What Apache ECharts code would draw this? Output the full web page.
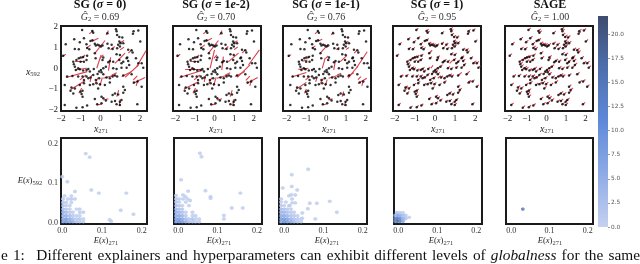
<!DOCTYPE html>
<html><head><meta charset="utf-8">
<style>html,body{margin:0;padding:0;background:#fff}#c{width:640px;height:264px}</style>
<script src="https://cdn.jsdelivr.net/npm/echarts@6/dist/echarts.min.js"></script>
</head><body><div id="c"></div>
<script>
const panelTitles = ['{b|SG (}{bi|σ}{b| = 0)}','{b|SG (}{bi|σ}{b| = 1}{bi|e}{b|-2)}','{b|SG (}{bi|σ}{b| = 1}{bi|e}{b|-1)}','{b|SG (}{bi|σ}{b| = 1)}','{b|SAGE}'];
const globalness = ['0.69','0.70','0.76','0.95','1.00'];
const topTicks = [-2,-1,0,1,2];
const bottomTicks = [0,0.1,0.2];
const colorbarTicks = [0,2.5,5,7.5,10,12.5,15,17.5,20];
const colorbarMax = 21.9;

const points = [
[-.93,1.85],[-.42,1.8],[-.37,1.71],[.35,1.69],[.78,1.88],[.81,1.79],[.84,1.61],[.95,1.51],[1.1,1.48],[1.67,1.79],[1.64,1.67],[1.91,1.82],[2.01,1.29],
[-1.76,1.16],[-1.33,1.4],[-1.05,1.26],[-.84,1.45],[-.51,1.32],[-.41,1.35],[-.71,1.16],[-1.3,.93],[-1.1,.92],[-.68,.98],[-.57,.92],[-.29,1.18],[-.24,1.1],[-.15,1.13],[-.07,1.1],[.02,1.05],[.1,1.1],
[.35,1.18],[.41,.97],[.56,1.13],[.61,.93],[.95,1.29],[1.01,1.21],[.89,1.13],[.98,1.05],[1.15,1.21],[.84,.97],[1.4,.89],[1.57,.87],[1.62,.76],[1.32,.48],
[-1.89,.61],[-1.38,.32],[-1.22,.4],[-1.1,.48],[-1,.52],[-.88,.55],[-.68,.61],[-1.35,.19],[-1.3,.08],[-1.25,-.08],[-1.13,0],[-1.01,.32],[-.84,.32],[-.71,.4],
[-.29,.72],[-.25,.48],[.14,.52],[.1,.4],[.64,.32],[.47,.35],[.81,.68],[.98,.64],[.95,.4],[1.06,.24],[1.15,.32],[1.35,.52],[1.4,.35],[1.45,.16],[1.79,.48],[1.91,.24],[2.08,.24],[2.16,.03],
[-1.05,-.05],[-.88,-.11],[-.71,-.08],[-.62,-.03],[-.54,-.16],[-.34,-.03],[-.15,-.27],[-.07,-.16],[.02,-.08],[.14,0],[.27,.08],[.39,.29],[.64,0],[.81,-.03],[1.06,.03],[1.32,.03],[1.57,-.29],
[-1.69,-.4],[-1.42,-.37],[-1.13,-.4],[-.91,-.4],[-.84,-.56],[-.71,-.4],[-.62,-.48],[-.51,-.45],[-.37,-.32],[-.24,-.56],[-.07,-.48],[.14,-.29],[.05,-.19],[.3,-.45],[.47,-.48],[.61,-.4],[.73,-.35],[.84,-.4],[1.15,-.35],[1.69,-.68],[1.87,-.64],[2.08,-.89],
[-1.81,-.81],[-1.47,-.93],[-1.3,-.97],[-1.52,-1.08],[-1.38,-1.21],[-1.05,-.81],[-.84,-.72],[-.91,-1.08],[-.96,-1.24],[-.91,-1.37],[-1.01,-1.13],[-.54,-.81],[-.37,-.77],[-.2,-.72],[-.12,-.97],[-.03,-.77],[.22,-.81],[.47,-.68],[1.15,-.89],[.73,-1.21],[.61,-1.29],
[-.29,-1.48],[.05,-1.37],[.14,-1.45],[.27,-1.55],[-.17,-1.74],[.05,-1.69],[.56,-1.61],[.73,-1.58],[.81,-1.74],[.98,-1.77],[.98,-1.61],[1.06,-1.53],[.89,-1.26],[1.23,-1.05],[1.15,-1.18],
[-1.81,-1.77],[-1.22,-1.9],[-.91,-1.88],[-.68,-1.8],[1.86,-1.74]
];

const arrowsSg0 = [
[-1.93,.56,-1.76,.68],[1.24,-.44,1.92,.16],[1.83,.08,2.3,.85],[1.63,-.73,2.25,-.44],[1.66,-.56,1.86,-.37],[-1.75,-.44,-.67,-.16],[-1.51,-1.02,-.78,-.6],[-1.29,-.08,-.7,0],[-1.29,.32,-.87,.32],
[-.28,.73,.23,1.34],[-.19,0,.03,.65],[.4,-.11,.51,.53],[.73,.24,1.24,.73],[.99,.89,1.19,1.02],[.95,1.21,1.19,1.34],[1.07,-.4,1.58,-.16],[-.03,-.85,.09,-.44],[-.28,-.73,-.11,-.44],[.82,-1.37,.92,-1.05],[.95,-1.82,.99,-1.5],
[-.19,-1.77,.06,-1.73],[.14,-1.53,.4,-1.47],[.28,1.61,.4,1.82],[-.57,1.66,-.36,1.82],[-.45,1.29,-.11,1.45],[-.7,.97,-.5,1.13],[-.95,.48,-.78,.65],[-.53,-.65,-.45,-.32],[.57,-.32,.82,-.21],[.14,-.48,.73,-.32],[-1.04,-.56,-.73,-.32],[-.03,.48,.14,.65],[1.41,.73,1.58,.89],[-1.1,-1.2,-.95,-.95],[.5,.9,.72,1.05],[1.8,-.85,1.9,-.55]
];
const arrowsSg2 = [
[-1.93,.56,-1.75,.68],[1.16,-.44,1.81,.16],[1.73,.16,2.29,.89],[1.64,-.73,2.2,-.44],[1.6,-.58,1.8,-.38],[-1.79,-.44,-.57,-.08],[-1.56,-1,-.82,-.65],[-1.5,-.05,-.74,-.05],[-1.25,.34,-.85,.36],
[-.31,.73,.2,1.34],[-.23,0,0,.89],[.37,-.08,.45,.56],[.71,.32,1.22,.73],[1,.9,1.18,1.03],[.93,1.2,1.17,1.33],[1.05,-.4,1.55,-.16],[-.05,-.85,.08,-.44],[-.3,-.73,-.13,-.44],[.8,-1.37,.9,-1.05],[.93,-1.82,.97,-1.5],
[-.2,-1.77,.05,-1.73],[.12,-1.53,.38,-1.47],[.26,1.61,.38,1.82],[-.57,1.66,-.38,1.82],[-.45,1.29,-.13,1.45],[-.7,.97,-.5,1.13],[-.95,.48,-.78,.65],[-.53,-.65,-.45,-.32],[.55,-.32,.8,-.21],[.12,-.48,.7,-.32],[-1.04,-.56,-.75,-.32],[-.03,.48,.12,.65],[1.41,.73,1.56,.89],[-1.1,-1.2,-.97,-.95],[.5,.9,.7,1.05],[1.8,-.85,1.88,-.55]
];
const arrowsSg1 = [
[-1.93,.56,-1.77,.66],[1.1,-.48,1.6,.1],[1.55,.05,2.07,.8],[1.6,-.73,2.05,-.48],[1.6,-.55,1.75,-.4],[-1.75,-.42,-1,-.2],[-1.5,-1,-1,-.68],[-1.4,-.05,-.9,0],[-1.2,.34,-.95,.4],
[-.3,.73,.1,1.15],[-.2,0,-.05,.5],[.38,-.08,.45,.3],[.71,.32,1.05,.62],[1,.9,1.15,1],[.93,1.2,1.12,1.3],[1.05,-.4,1.4,-.22],[-.05,-.85,.05,-.55],[-.3,-.73,-.15,-.5],[.8,-1.37,.88,-1.12],[.93,-1.82,.97,-1.58],
[-.2,-1.77,.02,-1.72],[.12,-1.53,.32,-1.47],[.26,1.61,.36,1.77],[-.57,1.66,-.42,1.78],[-.45,1.29,-.2,1.4],[-.7,.97,-.55,1.08],[-.95,.48,-.8,.6],[-.53,-.65,-.45,-.4],[.55,-.32,.75,-.24],[.12,-.48,.55,-.36],[-1.04,-.56,-.8,-.38],[-.03,.48,.1,.6],[1.41,.73,1.53,.85],[-1.1,-1.2,-1,-1],[.5,.9,.66,1.02],[1.8,-.85,1.86,-.62]
];
const arrowsSg10 = [
[1.15,-.35,1.33,-.2],[1.57,-.29,1.73,-.14],[-1.75,-.42,-1.57,-.33],[.14,-.48,.29,-.35],[.73,.24,.89,.39],[-.3,.73,-.14,.87],[1.6,-.73,1.77,-.59],[-1.5,-1,-1.35,-.88],[-.2,0,-.1,.15],[1.9,.24,2.06,.36]
];
const stubSg1 = [0.1,0.09];
const stubSage = [0.12,0.1];

const cellsSg0 = [
[.002,.002,9],[.01,.002,10],[.019,.002,8],[.027,.002,6],[.036,.002,3],[.044,.002,2],[.053,.002,1],
[.002,.009,8],[.01,.009,9],[.019,.009,7],[.027,.009,4],[.036,.009,2],[.044,.009,2],[.053,.009,1],
[.002,.017,6],[.01,.017,6],[.019,.017,4],[.027,.017,2],[.036,.017,1],[.044,.017,1],
[.002,.026,6],[.01,.026,4],[.019,.026,2],[.027,.026,1],[.044,.026,1],[.053,.026,1],
[.002,.034,4],[.01,.034,2],[.019,.034,1],[.036,.034,1],[.044,.034,1],
[.002,.043,3],[.01,.043,1],[.019,.043,1],[.002,.051,2],[.01,.051,1],[.023,.051,1],
[.002,.06,1],[.014,.06,1],[.023,.06,2],[.032,.06,1],[.006,.068,1],[.023,.068,1],
[.059,.176,1],[.069,.167,1],[0,.117,1],[.013,.104,1],[.032,.079,1],[.073,.083,1],[.092,.075,1],[.161,.075,1],[.147,.031,1],[.179,.021,1],[.119,.007,1],[.123,.003,1]
];
const cellsSg2 = [
[-.006,.002,9],[.002,.002,11],[.01,.002,9],[.019,.002,6],[.027,.002,3],[.036,.002,2],[.044,.002,1],[.053,.002,1],
[-.006,.009,9],[.002,.009,9],[.01,.009,7],[.019,.009,4],[.027,.009,2],[.036,.009,3],[.044,.009,1],[.053,.009,1],
[-.006,.017,7],[.002,.017,7],[.01,.017,5],[.019,.017,2],[.036,.017,1],[.044,.017,1],
[-.006,.026,6],[.002,.026,5],[.01,.026,3],[.019,.026,1],[.036,.026,1],
[-.006,.034,5],[.002,.034,3],[.01,.034,2],[-.006,.043,4],[.002,.043,2],[.01,.043,1],[.027,.043,1],[.019,.052,1],[.03,.056,1],
[-.006,.052,3],[.002,.052,1],[-.006,.06,2],[.002,.06,1],[.012,.06,1],[.023,.06,1],[-.006,.069,1],[.012,.07,1],[.018,.066,1],[.025,.08,1],
[.055,.177,1],[.059,.168,1],[.007,.109,1],[.069,.081,1],[.082,.066,1],[.082,.062,1],[.158,.075,1],[.136,.037,1],[.164,.037,1],[.116,.018,1],[.116,.009,1]
];
const cellsSg1 = [
[-.008,.002,8],[0,.002,11],[.008,.002,9],[.017,.002,7],[.025,.002,4],[.034,.002,2],[.043,.002,1],
[-.008,.009,9],[0,.009,10],[.008,.009,8],[.017,.009,5],[.025,.009,3],[.034,.009,2],[.043,.009,1],
[-.008,.017,7],[0,.017,7],[.008,.017,5],[.017,.017,3],[.025,.017,2],[.034,.017,1],
[-.008,.026,5],[0,.026,5],[.008,.026,3],[.017,.026,2],[.025,.026,1],
[-.008,.034,4],[0,.034,3],[.008,.034,2],[.017,.034,1],[-.008,.043,2],[0,.043,1],[.012,.043,1],[.02,.05,1],
[-.008,.052,1],[.004,.052,1],[.02,.06,1],[-.008,.06,1],[.012,.068,1],[.018,.071,1],[.028,.07,1],[.014,.043,1],[.028,.05,1],
[.061,.136,1],[.019,.122,1],[.019,.092,1],[.033,.083,1],[-.004,.088,1],[.065,.049,1],[.083,.049,1],[.116,.054,1],[.134,.026,1],[.079,.009,1],[.046,.024,1],[.046,.011,1],[.06,.035,1]
];
const cellsSg10 = [
[-.004,.003,22],[.004,.003,15],[-.008,.003,9],[.012,.003,7],[-.004,.01,18],[.004,.01,13],[-.008,.01,10],[.012,.01,6],[.019,.01,3],[-.004,.018,9],[.004,.018,7],[.012,.018,4],[.019,.018,2],[-.008,.018,3],[-.004,.025,3],[.004,.025,2],[.012,.025,1],[.028,.013,1]
];
const cellsSage = [[.03,.034,15]];

const tops = {xRange:[[-2,2.35],[-2.12,2.37],[-2.18,2.26],[-2.09,2.29],[-2.13,2.38]],yRange:[-2.06,2.04]};
const bots = {xRange:[[-.003,.213],[-.011,.213],[-.0135,.211],[-.011,.215],[-.014,.214]],yRange:[-.004,.216]};
const topBox = [[61,147],[173,261],[283,371],[393,481],[505,593]];
const botBox = [[61,147],[174,262],[279,367],[394,482],[506,593]];
const titleX = [100,216,326,437,550];
const topNameX = [101,216,329,438,547];
const botNameX = [106,219,327,441,550];
const allArrows = [arrowsSg0,arrowsSg2,arrowsSg1,null,null];
const allCells = [cellsSg0,cellsSg2,cellsSg1,cellsSg10,cellsSage];
const stubs = [null,null,null,stubSg1,stubSage];

const serif = '"Liberation Serif", serif';
const capSize = 15.35;
const rich = {
  b:{fontFamily:serif,fontWeight:'bold',fontSize:12,fill:'#111',color:'#111'},
  bi:{fontFamily:serif,fontWeight:'bold',fontStyle:'italic',fontSize:12,fill:'#111',color:'#111'},
  g:{fontFamily:serif,fontStyle:'italic',fontSize:10,fill:'#333',color:'#333'},
  n:{fontFamily:serif,fontSize:10,fill:'#333',color:'#333'},
  s:{fontFamily:serif,fontSize:6.5,fill:'#333',color:'#333',verticalAlign:'bottom',lineHeight:12,padding:[3,0,0,0]},
  i:{fontFamily:serif,fontStyle:'italic',fontSize:10,fill:'#222',color:'#222'},
  e:{fontFamily:serif,fontStyle:'italic',fontSize:8.5,fill:'#222',color:'#222'},
  n2:{fontFamily:serif,fontSize:8.5,fill:'#222',color:'#222'},
  c:{fontFamily:serif,fontSize:capSize,fill:'#111',color:'#111'},
  ci:{fontFamily:serif,fontStyle:'italic',fontSize:capSize,fill:'#111',color:'#111'}
};
const label = (text,x,y,align) => ({type:'text',silent:true,style:{text,x,y,textAlign:align||'center',textVerticalAlign:'middle',rich}});

const grid=[],xAxis=[],yAxis=[],series=[],graphic=[];
const fmt = v => String(v).replace('-','−');
const fmt1 = v => Number(v).toFixed(1);
function addAxes(box,top,h,xr,yr,ticks,f,showY,labelColor,fs){
  grid.push({left:box[0],top,width:box[1]-box[0],height:h,show:true,borderColor:'#1a1a1a',borderWidth:2,backgroundColor:'#fff'});
  const common={axisLine:{show:false},axisTick:{show:false},splitLine:{show:false}};
  const i=grid.length-1;
  xAxis.push({gridIndex:i,type:'value',min:xr[0],max:xr[1],...common,axisLabel:{customValues:ticks,formatter:f,fontFamily:serif,fontSize:fs,color:labelColor,margin:3,hideOverlap:false}});
  yAxis.push({gridIndex:i,type:'value',min:yr[0],max:yr[1],...common,axisLabel:showY?{customValues:ticks,formatter:f,fontFamily:serif,fontSize:fs,color:labelColor,margin:3}:{show:false}});
  return i;
}
const red='#dc3f4d';
const cellSeriesIdx=[];
for(let p=0;p<5;p++){
  const i=addAxes(topBox[p],26,85,tops.xRange[p],tops.yRange,topTicks,fmt,p===0,'#222',9);
  let segs;
  if(allArrows[p]) segs=allArrows[p].map(a=>({coords:[[a[0],a[1]],[a[2],a[3]]]}));
  else {
    const d=stubs[p];
    segs=points.map(q=>({coords:[[q[0],q[1]],[q[0]+d[0],q[1]+d[1]]]}));
    if(p===3) segs=segs.concat(arrowsSg10.map(a=>({coords:[[a[0],a[1]],[a[2],a[3]]]})));
  }
  series.push({type:'lines',coordinateSystem:'cartesian2d',xAxisIndex:i,yAxisIndex:i,polyline:false,silent:true,lineStyle:{color:red,width:1.1,opacity:1},data:segs,z:2});
  series.push({type:'scatter',xAxisIndex:i,yAxisIndex:i,symbol:'circle',symbolSize:2.5,silent:true,itemStyle:{color:'#000'},data:points,z:3});
  graphic.push(label(panelTitles[p],titleX[p],5));
  graphic.push(label('{g|Ĝ}{s|2}{n| = '+globalness[p]+'}',titleX[p],17));
  graphic.push(label('{i|x}{s|271}',topNameX[p],129));
}
const hex='path://M0,-2 L1.73,-1 L1.73,1 L0,2 L-1.73,1 L-1.73,-1 Z';
for(let p=0;p<5;p++){
  const i=addAxes(botBox[p],138,86,bots.xRange[p],bots.yRange,bottomTicks,fmt1,p===0,'#333',8);
  cellSeriesIdx.push(series.length);
  series.push({type:'scatter',xAxisIndex:i,yAxisIndex:i,symbol:hex,symbolSize:p===4?3.6:3.9,silent:true,data:allCells[p],z:3});
  graphic.push(label('{e|E}{n2|(}{e|x}{n2|)}{s|271}',botNameX[p],241));
}
graphic.push(label('{i|x}{s|592}',33,72));
graphic.push(label('{e|E}{n2|(}{e|x}{n2|)}{s|592}',30,181));
const ts='\u200a ';
graphic.push(label('{c|e'+ts+'1:   Different'+ts+'explainers'+ts+'and'+ts+'hyperparameters'+ts+'can'+ts+'exhibit'+ts+'different'+ts+'levels'+ts+'of'+ts+'}{ci|globalness}{c|'+ts+'for'+ts+'the'+ts+'same}',1,256,'left'));

// colour bar
const stops=['#c4d1f0','#8fabe6','#5f8ad8','#4e6fae','#3e4c6e'];
grid.push({left:598,top:16,width:10,height:211,show:false});
const cb=grid.length-1;
xAxis.push({gridIndex:cb,type:'category',data:[''],show:false});
yAxis.push({gridIndex:cb,type:'value',position:'right',min:0,max:colorbarMax,axisLine:{show:false},splitLine:{show:false},
  axisTick:{show:true,customValues:colorbarTicks,length:2,lineStyle:{color:'#555',width:.6}},
  axisLabel:{customValues:colorbarTicks,formatter:fmt1,fontFamily:'"DejaVu Sans"',fontSize:5.8,color:'#555',margin:3}});
series.push({type:'bar',xAxisIndex:cb,yAxisIndex:cb,barWidth:'100%',silent:true,data:[colorbarMax],
  itemStyle:{color:new echarts.graphic.LinearGradient(0,1,0,0,stops.map((c,k)=>({offset:k/(stops.length-1),color:c})))}});

const chart=echarts.init(document.getElementById('c'),null,{renderer:'canvas'});
chart.setOption({animation:false,backgroundColor:'#fff',grid,xAxis,yAxis,series,graphic:{elements:graphic},
  visualMap:{show:false,type:'continuous',min:0,max:colorbarMax,dimension:2,seriesIndex:cellSeriesIdx,inRange:{color:stops}}});
</script></body></html>
